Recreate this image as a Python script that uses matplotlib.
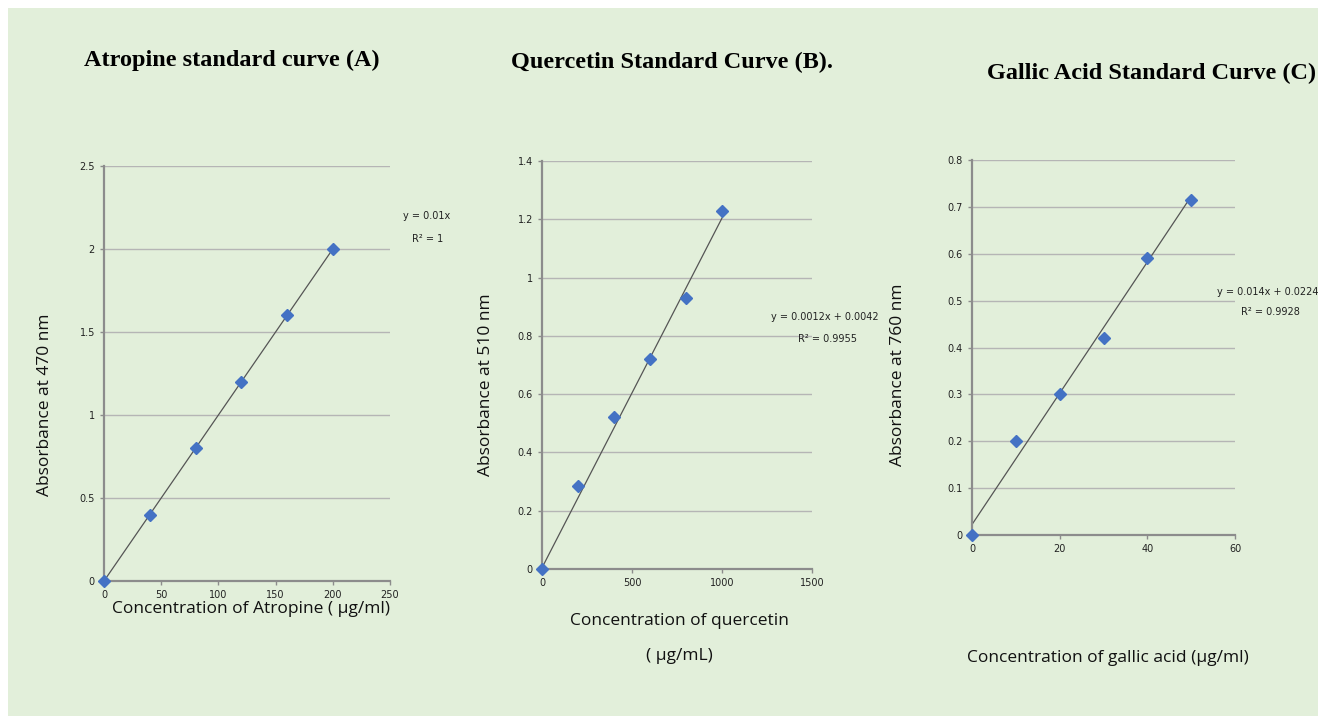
import matplotlib
matplotlib.use("Agg")
import matplotlib.pyplot as plt
import numpy as np
from matplotlib.patches import Rectangle
from matplotlib.ticker import FuncFormatter

# data
atropine_conc = [0, 40, 80, 120, 160, 200]
atropine_abs = [0, 0.4, 0.8, 1.2, 1.6, 2.0]

quercetin_conc = [0, 200, 400, 600, 800, 1000]
quercetin_abs = [0, 0.285, 0.52, 0.72, 0.93, 1.23]

gallic_conc = [0, 10, 20, 30, 40, 50]
gallic_abs = [0, 0.2, 0.3, 0.42, 0.59, 0.715]

# trendline coefficients (slope, intercept) from the chart labels
atropine_fit = (0.01, 0.0)
quercetin_fit = (0.0012, 0.0042)
gallic_fit = (0.014, 0.0224)

W, H = 1325, 723
bg = "#e2efda"
grey = "#8c8c8c"

fig = plt.figure(figsize=(W / 100, H / 100), dpi=100)
fig.patch.set_facecolor("white")
fig.patches.append(Rectangle((8 / W, 1 - 716 / H), 1310 / W, 708 / H,
                             transform=fig.transFigure, facecolor=bg,
                             edgecolor="none", zorder=-10))

def px(x, y):
    return x / W, 1 - y / H

def make_axes(left, right, top, bottom):
    ax = fig.add_axes([left / W, 1 - bottom / H, (right - left) / W, (bottom - top) / H])
    ax.set_facecolor("none")
    for s in ["top", "right"]:
        ax.spines[s].set_visible(False)
    for s in ["left", "bottom"]:
        ax.spines[s].set_color(grey)
        ax.spines[s].set_linewidth(1.6)
    ax.tick_params(colors=grey, labelcolor="#222222", labelsize=7, length=3, width=1)
    ax.grid(axis="y", color="#b5b5b5", linewidth=1)
    ax.set_axisbelow(True)
    return ax

gfmt = FuncFormatter(lambda v, p: "%g" % round(v, 3))

# panel A
axA = make_axes(104, 390, 166, 581)
xs = np.array([atropine_conc[0], atropine_conc[-1]])
axA.plot(xs, atropine_fit[0] * xs + atropine_fit[1], color="#555555", lw=0.9)
axA.plot(atropine_conc, atropine_abs, "D", color="#4472c4", ms=6, clip_on=False, zorder=5)
axA.set_xlim(0, 250)
axA.set_ylim(0, 2.5)
axA.set_xticks(np.arange(0, 251, 50))
axA.set_yticks(np.arange(0, 2.51, 0.5))
axA.yaxis.set_major_formatter(gfmt)

# panel B
axB = make_axes(542, 812, 161, 569)
xs = np.array([quercetin_conc[0], quercetin_conc[-1]])
axB.plot(xs, quercetin_fit[0] * xs + quercetin_fit[1], color="#555555", lw=0.9)
axB.plot(quercetin_conc, quercetin_abs, "D", color="#4472c4", ms=6, clip_on=False, zorder=5)
axB.set_xlim(0, 1500)
axB.set_ylim(0, 1.4)
axB.set_xticks([0, 500, 1000, 1500])
axB.set_yticks(np.arange(0, 1.41, 0.2))
axB.yaxis.set_major_formatter(gfmt)

# panel C
axC = make_axes(972, 1235, 160, 535)
xs = np.array([gallic_conc[0], gallic_conc[-1]])
axC.plot(xs, gallic_fit[0] * xs + gallic_fit[1], color="#555555", lw=0.9)
axC.plot(gallic_conc, gallic_abs, "D", color="#4472c4", ms=6, clip_on=False, zorder=5)
axC.set_xlim(0, 60)
axC.set_ylim(0, 0.8)
axC.set_xticks([0, 20, 40, 60])
axC.set_yticks(np.arange(0, 0.81, 0.1))
axC.yaxis.set_major_formatter(gfmt)

# titles
tfont = dict(family="Liberation Serif", fontweight="bold", fontsize=17.5, color="black",
             ha="center", va="center")
fig.text(*px(232, 60), "Atropine standard curve (A)", **tfont)
fig.text(*px(672, 62), "Quercetin Standard Curve (B).", **tfont)
fig.text(*px(1152, 73), "Gallic Acid Standard Curve (C)", **tfont)

# axis labels
lfont = dict(family="Open Sans", fontsize=12.5, color="#111111", ha="center", va="center")
fig.text(*px(251, 609), "Concentration of Atropine ( µg/ml)", **lfont)
fig.text(*px(679, 621), "Concentration of quercetin", **lfont)
fig.text(*px(679, 656), "( µg/mL)", **lfont)
fig.text(*px(1108, 658), "Concentration of gallic acid (µg/ml)", **lfont)
yfont = dict(lfont, fontsize=12.5)
fig.text(*px(45, 405), "Absorbance at 470 nm", rotation=90, **yfont)
fig.text(*px(486, 385), "Absorbance at 510 nm", rotation=90, **yfont)
fig.text(*px(898, 375), "Absorbance at 760 nm", rotation=90, **yfont)

# trendline equations
efont = dict(family="Liberation Sans Narrow", fontsize=7, color="#222222", ha="center", va="center")
fig.text(*px(427, 216), "y = 0.01x", **efont)
fig.text(*px(428, 239), "R² = 1", **efont)
fig.text(*px(825, 317), "y = 0.0012x + 0.0042", **efont)
fig.text(*px(827, 339), "R² = 0.9955", **efont)
fig.text(*px(1268, 292), "y = 0.014x + 0.0224", **efont)
fig.text(*px(1270, 312), "R² = 0.9928", **efont)

fig.savefig("out.png", dpi=100, facecolor=fig.get_facecolor())
